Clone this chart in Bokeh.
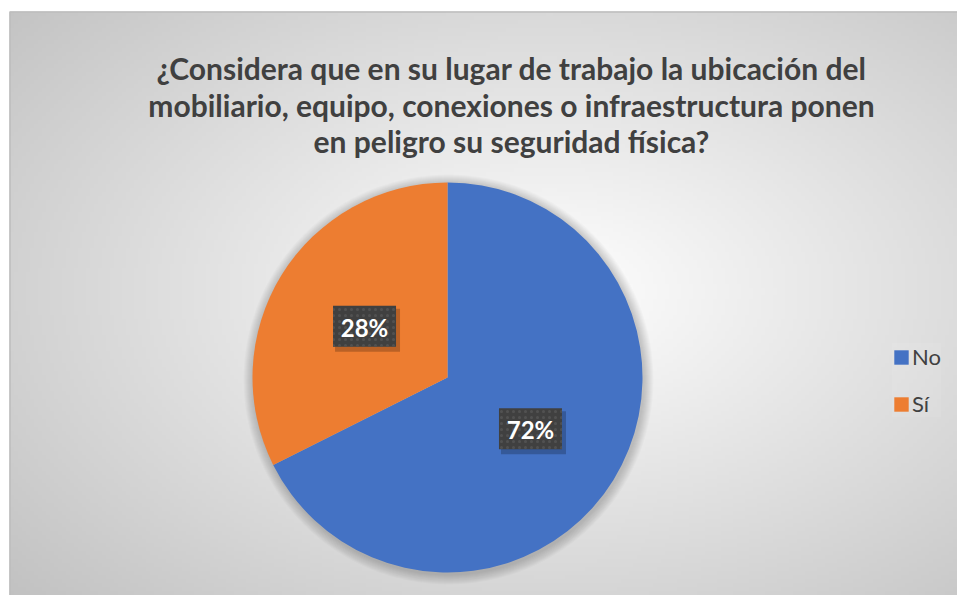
import numpy as np
from bokeh.plotting import figure
from bokeh.models import Range1d, Legend, LegendItem
from bokeh.core.properties import value
from bokeh.embed import file_html
from bokeh.resources import INLINE

# ---- data ----
categories = ["No", "Sí"]
slice_values = [67.6, 32.4]          # slice sizes as drawn in the reference
slice_labels = ["72%", "28%"]        # label texts as printed in the reference
colors = ["#4472C4", "#ED7D31"]
title_lines = [
    "¿Considera que en su lugar de trabajo la ubicación del",
    "mobiliario, equipo, conexiones o infraestructura ponen",
    "en peligro su seguridad física?",
]

W, H = 957, 595
p = figure(width=W, height=H, output_backend="svg", toolbar_location=None,
           x_range=Range1d(0, W), y_range=Range1d(0, H), min_border=0,
           match_aspect=False)
p.axis.visible = False
p.grid.visible = False
p.outline_line_color = None
p.background_fill_color = "white"
p.border_fill_color = "white"

# ---- radial gradient background (decoration) ----
gh, gw = 146, 237
yy, xx = np.mgrid[0:gh, 0:gw]
cx, cy = (gw - 1) * 0.57, (gh - 1) * 0.52
d = np.sqrt(((xx - cx) / (gw * 0.55)) ** 2 + ((yy - cy) / (gh * 0.55)) ** 2) / np.sqrt(2)
d = np.clip(d, 0, 1)
g = (255 - 62 * d).astype(np.uint8)
img = np.empty((gh, gw), dtype=np.uint32)
view = img.view(dtype=np.uint8).reshape((gh, gw, 4))
view[:, :, 0] = g
view[:, :, 1] = g
view[:, :, 2] = g
view[:, :, 3] = 255
bx0, by0 = 9, 0            # box left, bottom
bx1, by1 = W, H - 11       # box right, top
p.image_rgba(image=[img], x=bx0, y=by0, dw=bx1 - bx0, dh=by1 - by0)
p.line(x=[bx0 + 0.5, bx0 + 0.5, bx1], y=[by0, by1 - 0.5, by1 - 0.5],
       line_color="#bdbdbd", line_width=1.5)

# ---- pie ----
pcx, pcy, R = 447, H - 377, 195
for k in range(10, 0, -1):
    p.circle(x=pcx + 1, y=pcy - 2, radius=R + k, fill_color="black",
             fill_alpha=0.018, line_color=None)

vals = np.array(slice_values, dtype=float)
fr = vals / vals.sum()
cum = np.concatenate([[0], np.cumsum(fr)])
start = np.pi / 2 - 2 * np.pi * cum[:-1]
end = np.pi / 2 - 2 * np.pi * cum[1:]
renderers = []
for i in range(len(categories)):
    r = p.wedge(x=pcx, y=pcy, radius=R, start_angle=start[i], end_angle=end[i],
                direction="clock", fill_color=colors[i], line_color=None)
    renderers.append(r)

# ---- data labels ----
mid = (start + end) / 2
lx = pcx + 0.5 * R * np.cos(mid)
ly = pcy + 0.5 * R * np.sin(mid)
bw, bh = 63, 41
p.rect(x=lx + 3, y=ly - 4, width=bw + 2, height=bh + 2, fill_color="black",
       fill_alpha=0.22, line_color=None)
p.rect(x=lx, y=ly, width=bw, height=bh, fill_color="#404040", line_color=None,
       hatch_pattern=".", hatch_color="#515151", hatch_scale=6, hatch_weight=1)
p.text(x=lx, y=ly - 1, text=slice_labels, text_color="white",
       text_font=value("Lato"), text_font_style="bold", text_font_size="24px",
       text_align="center", text_baseline="middle")

# ---- title ----
baselines = [H - 67, H - 104, H - 140]
p.text(x=[511] * 3, y=baselines, text=title_lines, text_color="#404040",
       text_font=value("Lato"), text_font_style="bold", text_font_size="30px",
       text_align="center", text_baseline="alphabetic")

# ---- legend ----
legend = Legend(items=[LegendItem(label=categories[i], renderers=[renderers[i]])
                       for i in range(len(categories))],
                location=(892, H - 417), orientation="vertical",
                glyph_width=18, glyph_height=18, label_height=22,
                spacing=20, padding=12, margin=0, label_standoff=2,
                label_text_font="Lato", label_text_font_size="22px",
                label_text_color="#404040",
                background_fill_color="white", background_fill_alpha=0.08,
                border_line_color=None)
p.add_layout(legend, "center")

open("out.html", "w").write(file_html(p, INLINE))
